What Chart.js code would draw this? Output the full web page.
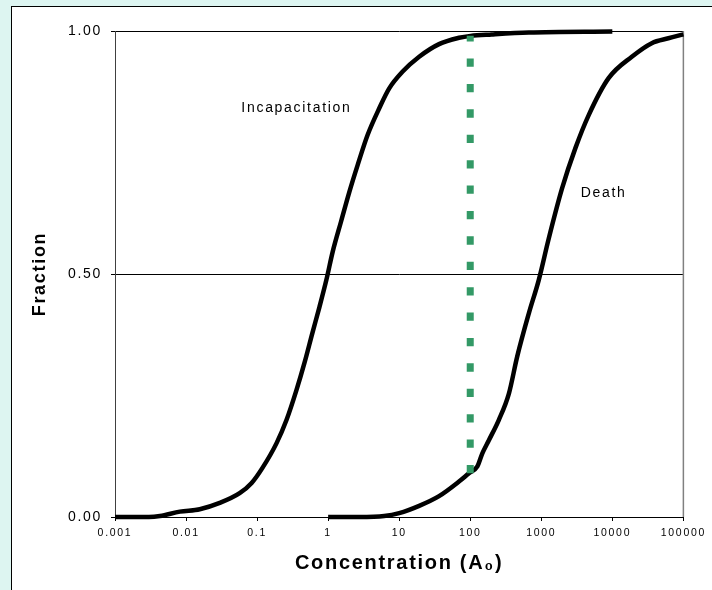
<!DOCTYPE html>
<html><head><meta charset="utf-8">
<script src="https://cdn.jsdelivr.net/npm/chart.js@4"></script>
<style>
html,body{margin:0;padding:0;width:712px;height:590px;overflow:hidden;background:#DDF5F1;}
#panel{position:absolute;left:11px;top:6px;width:720px;height:600px;background:#fff;border-left:1px solid #000;border-top:1px solid #000;}
#c{position:absolute;left:0;top:0;}
</style></head><body>
<div id="panel"></div>
<canvas id="c" width="712" height="590"></canvas>
<script>
// ---- data ----
const xTickValues = [0.001, 0.01, 0.1, 1, 10, 100, 1000, 10000, 100000];
const xTickLabels = ['0.001', '0.01', '0.1', '1', '10', '100', '1000', '10000', '100000'];
const yTickValues = [0, 0.5, 1];
const yTickLabels = ['0.00', '0.50', '1.00'];

const incapX = [0.001, 0.003, 0.0043, 0.0082, 0.0156, 0.0298, 0.0568, 0.0838, 0.119, 0.188, 0.26, 0.358, 0.464, 0.601, 0.754, 0.945, 1.16, 1.52, 1.99, 2.6, 3.59, 5.24, 7.24, 11.1, 19.1, 36.4, 69.5, 101, 200, 668, 10000];
const incapY = [0, 0, 0.002, 0.011, 0.016, 0.029, 0.049, 0.070, 0.101, 0.152, 0.200, 0.261, 0.317, 0.379, 0.432, 0.488, 0.546, 0.608, 0.669, 0.724, 0.786, 0.841, 0.882, 0.916, 0.947, 0.973, 0.986, 0.990, 0.993, 0.997, 0.999];

const deathX = [1, 2.72, 6.15, 10, 19.1, 36.4, 69.5, 96, 126, 148, 183, 253, 350, 458, 668, 923, 1274, 1960, 3020, 4650, 8860, 18800, 35900, 61500, 100000];
const deathY = [0, 0, 0.002, 0.008, 0.023, 0.043, 0.073, 0.090, 0.104, 0.131, 0.158, 0.200, 0.254, 0.330, 0.419, 0.488, 0.573, 0.676, 0.759, 0.827, 0.903, 0.947, 0.975, 0.985, 0.993];

const markerX = [100, 100];
const markerY = [0.09, 0.99];

const noteTexts = ['Incapacitation', 'Death'];
const noteX = [0.358, 7540];
const noteY = [0.842, 0.667];

const xTitle = 'Concentration (A\u2080)';
const yTitle = 'Fraction';

// ---- chart ----
const pts = (xs, ys) => xs.map((x, i) => ({x: x, y: ys[i]}));
Chart.defaults.font.family = "'Liberation Sans', Arial, sans-serif";
Chart.defaults.color = '#000';

const spacingPlugin = {
  id: 'spacing',
  beforeLayout(chart) { chart.ctx.letterSpacing = '1.7px'; },
  beforeDraw(chart) { chart.ctx.letterSpacing = '1.7px'; }
};
const framePlugin = {
  id: 'frame',
  beforeDatasetsDraw(chart) {
    const a = chart.chartArea, ctx = chart.ctx;
    ctx.save();
    ctx.strokeStyle = '#808080';
    ctx.lineWidth = 1.5;
    ctx.beginPath();
    ctx.moveTo(a.right, a.top);
    ctx.lineTo(a.right, a.bottom);
    ctx.stroke();
    ctx.restore();
  }
};
const notesPlugin = {
  id: 'notes',
  afterDatasetsDraw(chart) {
    const ctx = chart.ctx, xs = chart.scales.x, ys = chart.scales.y;
    ctx.save();
    ctx.letterSpacing = '1.7px';
    ctx.font = "14px 'Liberation Sans', Arial, sans-serif";
    ctx.fillStyle = '#000';
    ctx.textAlign = 'center';
    ctx.textBaseline = 'middle';
    noteTexts.forEach((t, i) => {
      ctx.fillText(t, xs.getPixelForValue(noteX[i]), ys.getPixelForValue(noteY[i]));
    });
    ctx.restore();
  }
};

new Chart(document.getElementById('c'), {
  type: 'line',
  data: {
    datasets: [
      {data: pts(markerX, markerY), borderColor: '#339966', borderWidth: 7, borderDash: [8.3, 17.1], borderCapStyle: 'butt', pointRadius: 0, clip: false},
      {data: pts(incapX, incapY), borderColor: '#000', borderWidth: 4.5, pointRadius: 0, cubicInterpolationMode: 'monotone', clip: false},
      {data: pts(deathX, deathY), borderColor: '#000', borderWidth: 4.5, pointRadius: 0, cubicInterpolationMode: 'monotone', clip: false}
    ]
  },
  options: {
    responsive: false,
    animation: false,
    devicePixelRatio: 1,
    layout: {padding: {left: 0, right: 27, top: 31, bottom: 0}},
    plugins: {legend: {display: false}, tooltip: {enabled: false}},
    scales: {
      x: {
        type: 'logarithmic',
        min: 0.001, max: 100000,
        afterBuildTicks: s => { s.ticks = xTickValues.map(v => ({value: v})); },
        afterFit: s => { s.height = 73; },
        ticks: {autoSkip: false, maxRotation: 0, padding: 6, font: {size: 10.5}, color: '#000',
          callback: (v, i) => xTickLabels[i]},
        grid: {drawOnChartArea: false, drawTicks: true, tickLength: 4, tickColor: '#000', color: '#000'},
        border: {color: '#000', width: 1},
        title: {display: true, text: xTitle, font: {size: 20, weight: 'bold'}, color: '#000', padding: {top: 4, bottom: 15}}
      },
      y: {
        type: 'linear',
        min: 0, max: 1,
        afterBuildTicks: s => { s.ticks = yTickValues.map(v => ({value: v})); },
        afterFit: s => { s.width = 115; },
        ticks: {padding: 9, font: {size: 14}, color: '#000', callback: (v, i) => yTickLabels[i]},
        grid: {drawOnChartArea: true, drawTicks: true, tickLength: 4, tickColor: '#000', color: '#000', lineWidth: 1},
        border: {color: '#404040', width: 1},
        title: {display: true, text: yTitle, font: {size: 18, weight: 'bold'}, color: '#000', padding: {top: 29, bottom: 4}}
      }
    }
  },
  plugins: [spacingPlugin, framePlugin, notesPlugin]
});
</script>
</body></html>
